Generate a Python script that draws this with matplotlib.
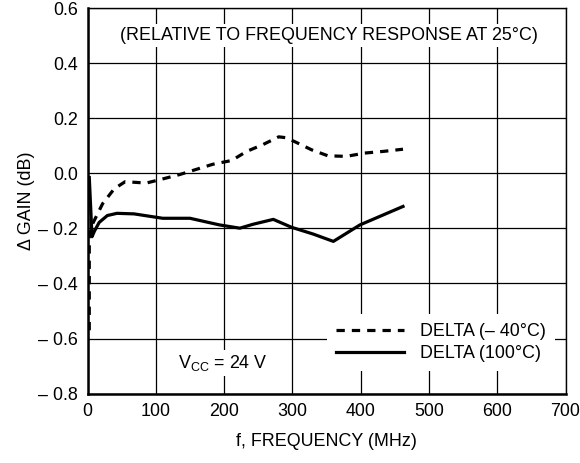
import matplotlib.pyplot as plt

plt.rcParams['font.family'] = ['Liberation Sans', 'DejaVu Sans']

# DELTA (-40 C), dashed
freq_cold = [2.5, 2.5, 4, 10, 22, 39, 55, 86, 110, 135, 183, 211, 233, 257,
             280, 290, 303, 328, 352, 379, 406, 433, 462]
gain_cold = [-0.57, -0.23, -0.2, -0.17, -0.11, -0.056, -0.03, -0.035, -0.02,
             -0.004, 0.033, 0.047, 0.08, 0.105, 0.133, 0.13, 0.116, 0.086,
             0.064, 0.062, 0.074, 0.08, 0.088]

# DELTA (100 C), solid
freq_hot = [2.5, 6.5, 10, 17, 29, 43, 68, 110, 150, 193, 223, 242, 272, 299,
            330, 360, 399, 462]
gain_hot = [-0.015, -0.23, -0.21, -0.178, -0.153, -0.145, -0.147, -0.163,
            -0.163, -0.187, -0.199, -0.185, -0.167, -0.196, -0.22, -0.247,
            -0.187, -0.12]

xticks = [0, 100, 200, 300, 400, 500, 600, 700]
yticks = [-0.8, -0.6, -0.4, -0.2, 0.0, 0.2, 0.4, 0.6]
ylabels = ['– 0.8', '– 0.6', '– 0.4', '– 0.2', '0.0', '0.2', '0.4', '0.6']

fs = 12.9

fig = plt.figure(figsize=(5.8, 4.63), dpi=100)
ax = fig.add_axes([0.151, 0.150, 0.824, 0.832])

ax.plot(freq_cold, gain_cold, color='black', lw=2.3, ls=(0, (2.6, 2.2)),
        label='DELTA (– 40°C)', zorder=3)
ax.plot(freq_hot, gain_hot, color='black', lw=2.3, label='DELTA (100°C)',
        zorder=3)

ax.set_xlim(0, 700)
ax.set_ylim(-0.8, 0.6)
ax.set_xticks(xticks)
ax.set_yticks(yticks)
ax.set_yticklabels(ylabels)
ax.tick_params(length=0, labelsize=fs, pad=7)
ax.grid(True, color='black', lw=0.9)
ax.set_axisbelow(True)
for side in ['left', 'bottom']:
    ax.spines[side].set_linewidth(1.8)
for side in ['top', 'right']:
    ax.spines[side].set_linewidth(1.0)

ax.set_xlabel('f, FREQUENCY (MHz)', fontsize=fs, labelpad=9)
ax.set_ylabel('Δ GAIN (dB)', fontsize=fs, labelpad=2)

ax.text(353, 0.5, '(RELATIVE TO FREQUENCY RESPONSE AT 25°C)', ha='center',
        va='center', fontsize=fs,
        bbox=dict(facecolor='white', edgecolor='none', pad=2))
ax.text(198, -0.69, r'V$_{\mathregular{CC}}$ = 24 V', ha='center', va='center',
        fontsize=fs, bbox=dict(facecolor='white', edgecolor='none', pad=2))

leg = ax.legend(loc='lower right', bbox_to_anchor=(0.997, 0.035), fontsize=fs,
                frameon=True, fancybox=False, framealpha=1, edgecolor='none',
                handlelength=3.8, handletextpad=0.9, labelspacing=0.3,
                borderpad=0.5)
leg.set_zorder(4)

fig.savefig('out.png', dpi=100)
